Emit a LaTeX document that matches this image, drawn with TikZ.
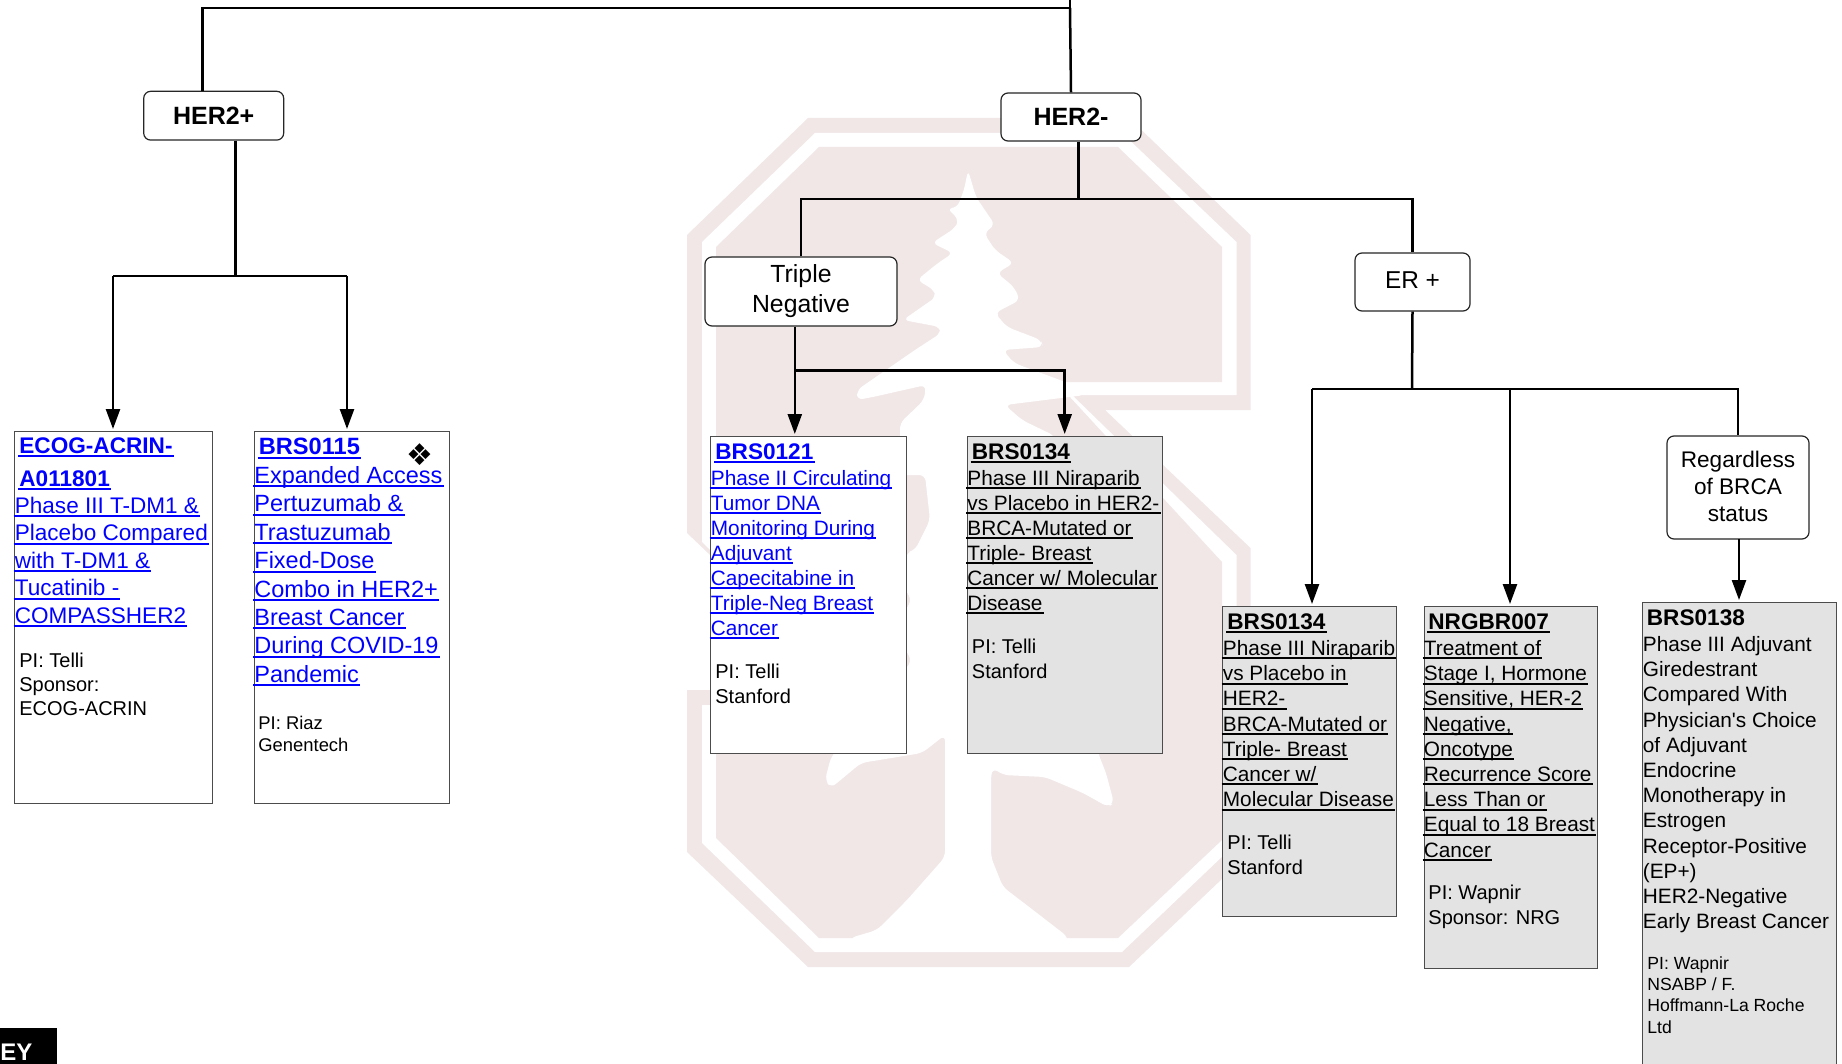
\documentclass[tikz,border=0pt]{standalone}
\usepackage{fontspec}
\usetikzlibrary{arrows.meta}
\setmainfont{Liberation Sans}[Ligatures=TeXOff]
\newfontfamily\symbolfont{DejaVu Sans}
\definecolor{logopink}{HTML}{F1E7E7}
\definecolor{boxgray}{HTML}{E3E3E3}
% link style underline, a bit wider than its text
\newcommand{\uline}[1]{\leavevmode\setbox0=\hbox{#1}\rlap{\kern-.6pt\rule[-2pt]{\dimexpr\wd0+1.2pt\relax}{1.05pt}}\box0}
% every text block hangs from this height, so its first baseline is 20 units below the node
\newcommand{\linehead}{\rule{0pt}{10pt}}

\begin{document}
\begin{tikzpicture}[x=0.5pt,y=-0.5pt,
    link/.style={line width=1.25pt},
    flowarrow/.style={link, -{Triangle[length=10pt,width=7pt]}, shorten >=1pt},
    groupbox/.style={draw=black!85, fill=white, rounded corners=3.5pt, line width=.6pt, align=center, inner sep=0pt},
    studybox/.style={draw=black!70, line width=.7pt, anchor=north west, inner sep=0pt},
    blockline/.style={anchor=north west, inner sep=0pt, align=left},
    titlea/.style={blockline, font=\fontsize{11.3}{16.5}\selectfont\bfseries},
    bodya/.style={blockline, font=\fontsize{10.4}{12.6}\selectfont},
    pia/.style={blockline, font=\fontsize{10}{12.3}\selectfont}]
    \path[use as bounding box, clip] (0,0) rectangle (1842,1064);

    % Stanford block S behind everything
    \fill[logopink] (808,118) -- (1129,118) -- (1250.5,235) -- (1250.5,410) -- (1105,410) -- (1250.5,548)
        -- (1250.5,852) -- (1129,967) -- (808,967) -- (687,852) -- (687,690) -- (852,690) -- (687,533)
        -- (687,235) -- cycle;
    \fill[white] (815,133) -- (1122,133) -- (1236.5,242) -- (1236.5,395) -- (1072,395) -- (1236.5,555)
        -- (1236.5,843) -- (1122,952) -- (815,952) -- (702,843) -- (702,705) -- (867,705) -- (702,542)
        -- (702,242) -- cycle;
    \fill[logopink] (819,147) -- (1118,147) -- (1222,247) -- (1222,382) -- (1056,382) -- (1222,562)
        -- (1222,840) -- (1118,938) -- (819,938) -- (716,838) -- (716,720) -- (900,720) -- (716,556)
        -- (716,247) -- cycle;
    % the tree, cut out of the S
    \fill[white, rounded corners=3pt] (968,170) -- (976,197) -- (995,225) -- (984,233) -- (995,250)
        -- (1014,263) -- (997,273) -- (1014,287) -- (1020,300) -- (995,313) -- (1007,327) -- (1041,340)
        -- (1043,347) -- (1003,350) -- (1014,363) -- (1068,383) -- (1085,395) -- (1005,405) -- (1022,420)
        -- (1055,436) -- (1098,753) -- (1106,773) -- (1114,803) -- (1108,807) -- (1083,793) -- (1045,777)
        -- (1003,775) -- (993,768) -- (991,775) -- (991,857) -- (1003,887) -- (1037,913) -- (1068,937)
        -- (1068,945) -- (850,945) -- (850,938) -- (877,930) -- (907,900) -- (945,857) -- (945,735)
        -- (922,753) -- (861,763) -- (831,788) -- (825,780) -- (831,757) -- (905,670) -- (912,660)
        -- (905,650) -- (905,610) -- (912,600) -- (905,590) -- (906,553) -- (915,550) -- (930,520)
        -- (925,475) -- (900,475) -- (900,423) -- (924,400) -- (926,385) -- (873,397) -- (857,400)
        -- (857,390) -- (915,350) -- (941,333) -- (940,327) -- (903,320) -- (936,297) -- (934,290)
        -- (917,280) -- (938,263) -- (953,253) -- (932,243) -- (955,228) -- (959,220) -- (947,208)
        -- (957,208) -- (964,190) -- cycle;

    % Group boxes
    \node[groupbox, minimum width=70pt, minimum height=24.4pt, font=\fontsize{12.5}{15}\selectfont\bfseries] (herpos) at (213.7,115.7) {\raisebox{-.4pt}{HER2+}};
    \node[groupbox, minimum width=70pt, minimum height=24pt, font=\fontsize{12.5}{15}\selectfont\bfseries] (herneg) at (1071,117) {HER2-};
    \node[groupbox, minimum width=96pt, minimum height=34.5pt, font=\fontsize{12.4}{15}\selectfont] (triple) at (801,291.5) {Triple\\Negative};
    \node[groupbox, minimum width=57.5pt, minimum height=29pt, font=\fontsize{12.2}{15}\selectfont] (erpos) at (1412.5,282) {\raisebox{1.75pt}{ER +}};
    \node[groupbox, minimum width=71pt, minimum height=51.5pt, font=\fontsize{11.3}{13.5}\selectfont] (regardless) at (1738,487.5) {\raisebox{.8pt}{Regardless}\\\raisebox{.8pt}{of BRCA}\\\raisebox{.8pt}{status}};

    % Study boxes
    \node[studybox, fill=white, minimum width=99pt, minimum height=186pt] (ecog) at (14,431) {};
    \node[studybox, fill=white, minimum width=97.5pt, minimum height=186pt] (expanded) at (253.5,431) {};
    \node[studybox, fill=white, minimum width=98pt, minimum height=158.5pt] (circulating) at (710,436) {};
    \node[studybox, fill=boxgray, minimum width=97.5pt, minimum height=158.5pt] (niraparibA) at (966.5,436) {};
    \node[studybox, fill=boxgray, minimum width=86.75pt, minimum height=155pt] (niraparibB) at (1222,606) {};
    \node[studybox, fill=boxgray, minimum width=86.5pt, minimum height=181pt] (nrg) at (1423.5,606) {};
    \node[studybox, fill=boxgray, minimum width=97pt, minimum height=240pt] (adjuvant) at (1642,602) {};

    % Connectors from the top down
    \coordinate (rootin) at (1070,0);
    \coordinate (rootjoin) at (1070,8);
    \coordinate (rootleft) at (202.7,8);
    \draw[link] (rootin) -- (rootjoin) -- (rootleft) -- (rootleft |- herpos.north);
    \draw[link] (rootjoin) -- (herneg.north);

    \coordinate (posjoin) at (235.7,276);
    \coordinate (posleft) at (113,276);
    \coordinate (posright) at (347,276);
    \draw[link] (posjoin |- herpos.south) -- (posjoin);
    \draw[link] (posleft) -- (posright);
    \draw[flowarrow] (posleft) -- (posleft |- ecog.north);
    \draw[flowarrow] (posright) -- (posright |- expanded.north);

    \coordinate (negjoin) at (1078.7,199);
    \draw[link] (negjoin |- herneg.south) -- (negjoin);
    \draw[link] (triple.north) |- (negjoin) -| (erpos.north);

    \coordinate (triplejoin) at (794.8,370.7);
    \draw[flowarrow] (triplejoin |- triple.south) -- (triplejoin |- circulating.north);
    \draw[flowarrow] (triplejoin) -| (niraparibA.north);

    \coordinate (erjoin) at (1412,389);
    \coordinate (erleft) at (1312,389);
    \coordinate (ermid) at (1510,389);
    \draw[link] (erpos.south) -- (erjoin);
    \draw[link] (erleft) -- (erjoin) -| (regardless.north);
    \draw[flowarrow] (erleft) -- (erleft |- niraparibB.north);
    \draw[flowarrow] (ermid) -- (ermid |- nrg.north);
    \coordinate (regardlessout) at (1739,539);
    \draw[flowarrow] (regardlessout) -- (regardlessout |- adjuvant.north);

    % HER2+ studies
    \node[titlea, text=blue] (ecogtitle) at (19,433) {\linehead\uline{ECOG-ACRIN-}\\\uline{A011801}};
    \node[bodya, font=\fontsize{11.27}{13.7}\selectfont, text=blue] (ecogbody) at (14.5,493) {\linehead\uline{Phase III T-DM1 \&}\\\uline{Placebo Compared}\\\uline{with T-DM1 \&}\\\uline{Tucatinib -}\\\uline{COMPASSHER2}};
    \node[pia, font=\fontsize{10}{12}\selectfont] (ecogpi) at (19,647) {\linehead PI: Telli\\Sponsor:\\ECOG-ACRIN};

    \node[titlea, font=\fontsize{11.8}{16}\selectfont\bfseries, text=blue] (expandedtitle) at (258.5,434.5) {\linehead\uline{BRS0115}};
    \node[font=\symbolfont\fontsize{15}{16}\selectfont, inner sep=0pt] (expandedmark) at (419.7,455) {❖};
    \node[bodya, font=\fontsize{11.75}{14.2}\selectfont, text=blue] (expandedbody) at (254,463) {\linehead\uline{Expanded Access}\\\uline{Pertuzumab \&}\\\uline{Trastuzumab}\\\uline{Fixed-Dose}\\\uline{Combo in HER2+}\\\uline{Breast Cancer}\\\uline{During COVID-19}\\\uline{Pandemic}};
    \node[pia, font=\fontsize{9.2}{11.15}\selectfont] (expandedpi) at (258,709) {\linehead PI: Riaz\\Genentech};

    % Triple negative studies
    \node[titlea, text=blue] (circulatingtitle) at (715,439) {\linehead\uline{BRS0121}};
    \node[bodya, font=\fontsize{10.4}{12.5}\selectfont, text=blue] (circulatingbody) at (710.5,465) {\linehead\uline{Phase II Circulating}\\\uline{Tumor DNA}\\\uline{Monitoring During}\\\uline{Adjuvant}\\\uline{Capecitabine in}\\\uline{Triple-Neg Breast}\\\uline{Cancer}};
    \node[pia] (circulatingpi) at (715,658) {\linehead PI: Telli\\Stanford};

    \node[titlea] (niraparibAtitle) at (971.5,439) {\linehead\uline{BRS0134}};
    \node[bodya, font=\fontsize{10.4}{12.5}\selectfont] (niraparibAbody) at (967,465) {\linehead\uline{Phase III Niraparib}\\\uline{vs Placebo in HER2-}\\\uline{BRCA-Mutated or}\\\uline{Triple- Breast}\\\uline{Cancer w/ Molecular}\\\uline{Disease}};
    \node[pia] (niraparibApi) at (971.5,633) {\linehead PI: Telli\\Stanford};

    % ER+ studies
    \node[titlea] (niraparibBtitle) at (1227,609) {\linehead\uline{BRS0134}};
    \node[bodya] (niraparibBbody) at (1222.5,635) {\linehead\uline{Phase III Niraparib}\\\uline{vs Placebo in}\\\uline{HER2-}\\\uline{BRCA-Mutated or}\\\uline{Triple- Breast}\\\uline{Cancer w/}\\\uline{Molecular Disease}};
    \node[pia] (niraparibBpi) at (1227,829) {\linehead PI: Telli\\Stanford};

    \node[titlea] (nrgtitle) at (1428,609) {\linehead\uline{NRGBR007}};
    \node[bodya] (nrgbody) at (1423.5,635) {\linehead\uline{Treatment of}\\\uline{Stage I, Hormone}\\\uline{Sensitive, HER-2}\\\uline{Negative,}\\\uline{Oncotype}\\\uline{Recurrence Score}\\\uline{Less Than or}\\\uline{Equal to 18 Breast}\\\uline{Cancer}};
    \node[pia] (nrgpi) at (1428,879) {\linehead PI: Wapnir\\Sponsor: NRG};

    \node[titlea] (adjuvanttitle) at (1646.5,605) {\linehead BRS0138};
    \node[bodya] (adjuvantbody) at (1642.5,631) {\linehead Phase III Adjuvant\\Giredestrant\\Compared With\\Physician's Choice\\of Adjuvant\\Endocrine\\Monotherapy in\\Estrogen\\Receptor-Positive\\(EP+)\\HER2-Negative\\Early Breast Cancer};
    \node[pia, font=\fontsize{8.8}{10.6}\selectfont] (adjuvantpi) at (1647,949) {\linehead PI: Wapnir\\NSABP / F.\\Hoffmann-La Roche\\Ltd};

    % Key in the corner
    \node[fill=black, anchor=north west, inner sep=0pt, minimum width=28.5pt, minimum height=20pt] (keybox) at (0,1028) {};
    \node[blockline, text=white, font=\fontsize{12}{14}\selectfont\bfseries] (keytext) at (0,1040) {\linehead EY};
\end{tikzpicture}
\end{document}
